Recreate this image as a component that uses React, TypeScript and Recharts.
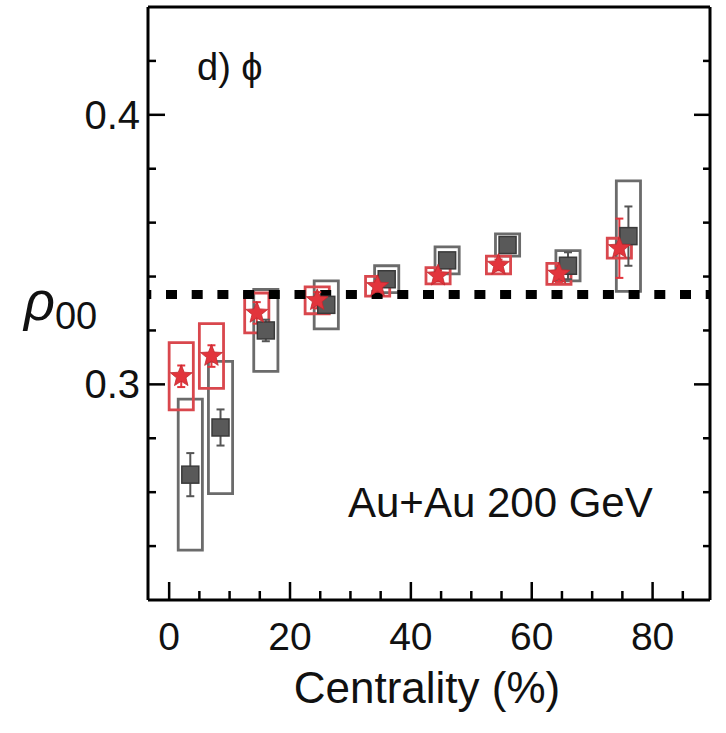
import React from 'react';
import {
  ComposedChart,
  Scatter,
  ErrorBar,
  XAxis,
  YAxis,
  ReferenceArea,
  ReferenceLine,
  Customized,
} from 'recharts';

const FONT = '"Liberation Sans", Arial, Helvetica, sans-serif';

// tick positions
const xTicks = [0, 5, 10, 15, 20, 25, 30, 35, 40, 45, 50, 55, 60, 65, 70, 75, 80, 85];
const yTicks = [0.24, 0.26, 0.28, 0.3, 0.32, 0.34, 0.36, 0.38, 0.4, 0.42];

// red stars
const redCent = [2, 7, 14.5, 24.5, 34.5, 44.5, 54.5, 64.5, 74.5];
const redRho = [0.303, 0.3105, 0.3265, 0.3312, 0.3364, 0.3403, 0.3443, 0.341, 0.3505];
const redStat = [0.004, 0.004, 0.004, 0.003, 0.002, 0.002, 0.002, 0.003, 0.011];
const redSys = [0.0125, 0.012, 0.0074, 0.005, 0.0037, 0.003, 0.0033, 0.0039, 0.0037];

// grey squares
const grayCent = [3.5, 8.5, 16, 26, 36, 46, 56, 66, 76];
const grayRho = [0.2665, 0.284, 0.32, 0.3295, 0.339, 0.346, 0.3517, 0.344, 0.355];
const grayStat = [0.008, 0.0067, 0.004, 0.003, 0.002, 0.002, 0.002, 0.005, 0.011];
const graySys = [0.028, 0.0245, 0.0152, 0.0089, 0.005, 0.005, 0.0041, 0.0056, 0.0205];

const boxHalf = 2;
const dashLevel = 1 / 3;

const redData = redCent.map((x, i) => ({ x, y: redRho[i], err: redStat[i] }));
const grayData = grayCent.map((x, i) => ({ x, y: grayRho[i], err: grayStat[i] }));

const RED = '#e2343c';
const RED_BOX = '#d9474d';
const GRAY_BOX = '#6b6b6b';

const isMajorY = (v: number) => Math.abs(v * 10 - Math.round(v * 10)) < 1e-6;

const BottomTick = ({ x, y, payload }: any) => {
  const major = payload.value % 20 === 0;
  return (
    <g>
      <line x1={x} x2={x} y1={y} y2={y - (major ? 18 : 9)} stroke="#000" strokeWidth={2.5} />
      {major && (
        <text x={x} y={y + 50} textAnchor="middle" fontSize={39} fontFamily={FONT} fill="#111">
          {payload.value}
        </text>
      )}
    </g>
  );
};

const TopTick = ({ x, y, payload }: any) => {
  const major = payload.value % 20 === 0;
  return <line x1={x} x2={x} y1={y} y2={y + (major ? 17 : 8)} stroke="#000" strokeWidth={2.5} />;
};

const LeftTick = ({ x, y, payload }: any) => {
  const major = isMajorY(payload.value);
  return (
    <g>
      <line x1={x} x2={x + (major ? 17 : 8)} y1={y} y2={y} stroke="#000" strokeWidth={2.5} />
      {major && (
        <text x={x - 8} y={y + 14} textAnchor="end" fontSize={40} fontFamily={FONT} fill="#111">
          {payload.value.toFixed(1)}
        </text>
      )}
    </g>
  );
};

const RightTick = ({ x, y, payload }: any) => {
  const major = isMajorY(payload.value);
  return <line x1={x} x2={x - (major ? 16 : 7)} y1={y} y2={y} stroke="#000" strokeWidth={2.5} />;
};

const Star = ({ cx, cy }: any) => {
  const pts: string[] = [];
  for (let k = 0; k < 10; k++) {
    const r = k % 2 === 0 ? 11.5 : 5;
    const a = -Math.PI / 2 + (k * Math.PI) / 5;
    pts.push(`${cx + r * Math.cos(a)},${cy + r * Math.sin(a)}`);
  }
  return <polygon points={pts.join(' ')} fill={RED} stroke="#c0282f" strokeWidth={0.8} />;
};

const Square = ({ cx, cy }: any) => (
  <rect x={cx - 8.5} y={cy - 8.5} width={17} height={17} fill="#595959" stroke="#3a3a3a" strokeWidth={1.5} />
);

const Texts = () => (
  <g fontFamily={FONT} fill="#111">
    <text x={197} y={80} fontSize={38}>
      d) ϕ
    </text>
    <text x={348} y={517} fontSize={42}>
      Au+Au 200 GeV
    </text>
    <text x={24} y={320} fontSize={54} fontStyle="italic">
      ρ
      <tspan fontStyle="normal" fontSize={38} dy={9}>
        00
      </tspan>
    </text>
    <text x={427} y={703} fontSize={44} textAnchor="middle">
      Centrality (%)
    </text>
  </g>
);

export default function App() {
  return (
    <div style={{ position: 'absolute', left: 0, top: 0, background: '#fff' }}>
      <ComposedChart width={726} height={733} margin={{ top: 0, right: 0, bottom: 0, left: 0 }}>
        <XAxis
          xAxisId={0}
          type="number"
          dataKey="x"
          domain={[-3.5, 89.5]}
          ticks={xTicks}
          interval={0}
          height={133}
          tickSize={0}
          tickMargin={0}
          tickLine={false}
          tick={<BottomTick />}
          axisLine={{ stroke: '#000', strokeWidth: 3 }}
          allowDataOverflow
        />
        <XAxis
          xAxisId="top"
          orientation="top"
          type="number"
          domain={[-3.5, 89.5]}
          ticks={xTicks}
          interval={0}
          height={7}
          tickSize={0}
          tickMargin={0}
          tickLine={false}
          tick={<TopTick />}
          axisLine={{ stroke: '#000', strokeWidth: 3 }}
          allowDataOverflow
        />
        <YAxis
          yAxisId={0}
          type="number"
          dataKey="y"
          domain={[0.22, 0.44]}
          ticks={yTicks}
          interval={0}
          width={148}
          tickSize={0}
          tickMargin={0}
          tickLine={false}
          tick={<LeftTick />}
          axisLine={{ stroke: '#000', strokeWidth: 3 }}
          allowDataOverflow
        />
        <YAxis
          yAxisId="right"
          orientation="right"
          type="number"
          domain={[0.22, 0.44]}
          ticks={yTicks}
          interval={0}
          width={16}
          tickSize={0}
          tickMargin={0}
          tickLine={false}
          tick={<RightTick />}
          axisLine={{ stroke: '#000', strokeWidth: 3 }}
          allowDataOverflow
        />

        <ReferenceLine
          y={dashLevel}
          stroke="#000"
          strokeWidth={9}
          strokeDasharray="11 14.7"
          strokeDashoffset={7.7}
        />

        {grayCent.map((x, i) => (
          <ReferenceArea
            key={`g${i}`}
            x1={x - boxHalf}
            x2={x + boxHalf}
            y1={grayRho[i] - graySys[i]}
            y2={grayRho[i] + graySys[i]}
            fill="none"
            fillOpacity={0}
            stroke={GRAY_BOX}
            strokeWidth={2.8}
            ifOverflow="visible"
          />
        ))}

        <Scatter data={grayData} dataKey="y" shape={<Square />} isAnimationActive={false}>
          <ErrorBar dataKey="err" direction="y" width={4} stroke="#555" strokeWidth={2} />
        </Scatter>

        {redCent.map((x, i) => (
          <ReferenceArea
            key={`r${i}`}
            x1={x - boxHalf}
            x2={x + boxHalf}
            y1={redRho[i] - redSys[i]}
            y2={redRho[i] + redSys[i]}
            fill="none"
            fillOpacity={0}
            stroke={RED_BOX}
            strokeWidth={2.8}
            ifOverflow="visible"
          />
        ))}

        <Scatter data={redData} dataKey="y" shape={<Star />} isAnimationActive={false}>
          <ErrorBar dataKey="err" direction="y" width={4} stroke={RED} strokeWidth={2} />
        </Scatter>

        <Customized component={<Texts />} />
      </ComposedChart>
    </div>
  );
}
